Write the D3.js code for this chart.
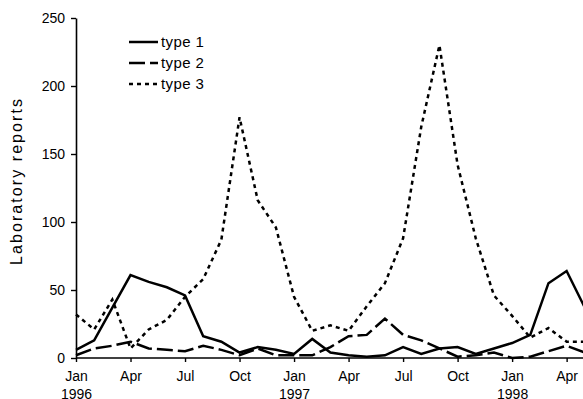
<!DOCTYPE html>
<html>
<head>
<meta charset="utf-8">
<script src="https://cdn.jsdelivr.net/npm/d3@7"></script>
<style>
  html, body { margin: 0; padding: 0; background: #fff; }
  svg { display: block; font-family: "Liberation Sans", Arial, sans-serif; }
</style>
</head>
<body>
<svg id="chart" width="583" height="399"></svg>
<script>
// Monthly laboratory reports, Jan 1996 – May 1998
const monthNames = ["Jan", "Feb", "Mar", "Apr", "May", "Jun", "Jul", "Aug", "Sep", "Oct", "Nov", "Dec"];
const startYear = 1996;
const monthCount = 29;

const type1 = [6, 13, 37, 61, 56, 52, 46, 16, 12, 4, 8, 6,
               3, 14, 4, 2, 1, 2, 8, 3, 7, 8, 3, 7,
               11, 17, 55, 64, 37];
const type2 = [2, 7, 9, 12, 7, 6, 5, 9, 6, 2, 7, 2,
               2, 2, 8, 16, 17, 29, 17, 13, 7, 1, 2, 4,
               0, 1, 5, 9, 4];
const type3 = [32, 21, 43, 7, 21, 28, 45, 58, 87, 177, 116, 96,
               45, 20, 24, 20, 38, 55, 88, 170, 230, 142, 88, 46,
               31, 15, 22, 12, 12];

const yTicks = [0, 50, 100, 150, 200, 250];
const xTickMonths = d3.range(0, monthCount, 3); // Jan, Apr, Jul, Oct

const seriesList = [
  { name: "type 1", values: type1, dash: null },
  { name: "type 2", values: type2, dash: "16,5" },
  { name: "type 3", values: type3, dash: "4,4" }
];

const svg = d3.select("#chart");

const x = d3.scaleLinear().domain([0, 28]).range([76, 584.8]);
const y = d3.scaleLinear().domain([0, 250]).range([358, 18]);

// Data lines
const line = d3.line()
  .x((d, i) => x(i))
  .y(d => y(d));

svg.append("g")
  .selectAll("path")
  .data(seriesList)
  .join("path")
  .attr("d", s => line(s.values))
  .attr("fill", "none")
  .attr("stroke", "#000")
  .attr("stroke-width", 2.5)
  .attr("stroke-linejoin", "miter")
  .attr("stroke-dasharray", s => s.dash);

// Y axis
const yAxis = svg.append("g")
  .attr("transform", `translate(${x(0)},0)`)
  .call(d3.axisLeft(y).tickValues(yTicks).tickSize(5).tickPadding(6).tickSizeOuter(0));
yAxis.select(".domain").attr("stroke", "#000").attr("stroke-width", 1.6);
yAxis.selectAll(".tick line").attr("stroke", "#000").attr("stroke-width", 1.4);
yAxis.selectAll(".tick text").attr("font-size", 14).attr("fill", "#000")
  .attr("font-family", "Liberation Sans, Arial, sans-serif");

// X axis
const xAxis = svg.append("g")
  .attr("transform", `translate(0,${y(0)})`)
  .call(d3.axisBottom(x).tickValues(xTickMonths).tickSize(4).tickSizeOuter(0).tickFormat(() => ""));
xAxis.select(".domain").attr("stroke", "#000").attr("stroke-width", 1.6)
  .attr("d", `M${x(0)},0H583`);
xAxis.selectAll(".tick line").attr("stroke", "#000").attr("stroke-width", 1.4);

xAxis.selectAll(".tick").each(function (m) {
  const g = d3.select(this);
  const t = g.append("text")
    .attr("fill", "#000")
    .attr("font-size", 14)
    .attr("font-family", "Liberation Sans, Arial, sans-serif")
    .attr("text-anchor", "middle");
  t.append("tspan").attr("x", 0).attr("y", 23).text(monthNames[m % 12]);
  if (m % 12 === 0) {
    t.append("tspan").attr("x", 0).attr("y", 41).text(startYear + m / 12);
  }
});

// Y axis title
svg.append("text")
  .attr("transform", "translate(22,182) rotate(-90)")
  .attr("text-anchor", "middle")
  .attr("font-size", 16)
  .attr("fill", "#000")
  .attr("textLength", 166)
  .attr("lengthAdjust", "spacing")
  .text("Laboratory reports");

// Legend
const legend = svg.append("g");
const legendRows = legend.selectAll("g")
  .data(seriesList)
  .join("g")
  .attr("transform", (s, i) => `translate(129,${42 + i * 21})`);
legendRows.append("line")
  .attr("x1", 0).attr("x2", 29)
  .attr("y1", 0).attr("y2", 0)
  .attr("stroke", "#000")
  .attr("stroke-width", 2.5)
  .attr("stroke-dasharray", s => s.dash);
legendRows.append("text")
  .attr("x", 32)
  .attr("y", 5)
  .attr("font-size", 15)
  .attr("letter-spacing", 0.4)
  .attr("fill", "#000")
  .text(s => s.name);
</script>
</body>
</html>
